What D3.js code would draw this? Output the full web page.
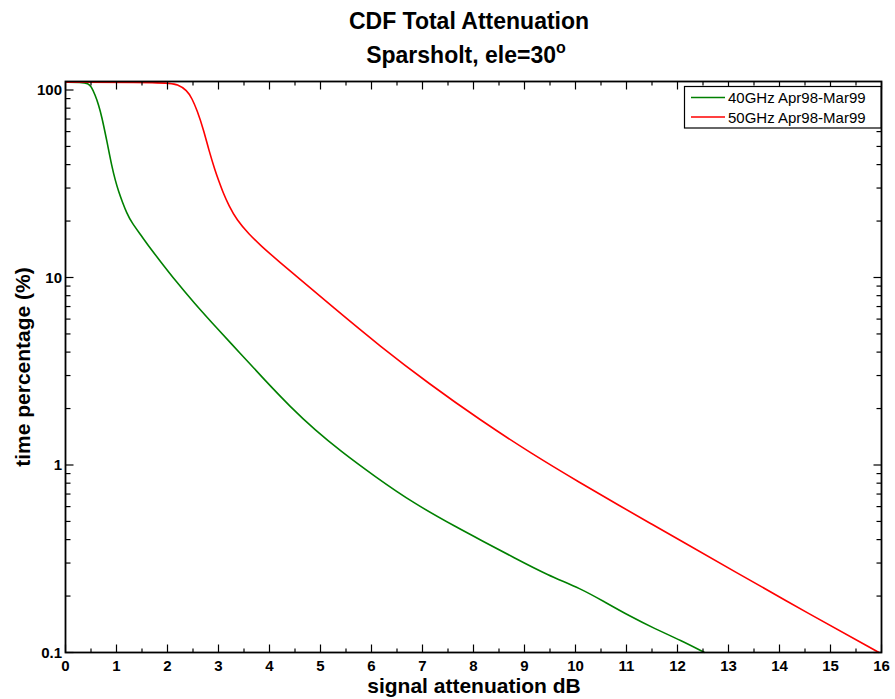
<!DOCTYPE html>
<html>
<head>
<meta charset="utf-8">
<script src="https://d3js.org/d3.v7.min.js"></script>
<style>
  html, body { margin: 0; padding: 0; background: #fff; }
  svg { display: block; font-family: "Liberation Sans", Arial, sans-serif; }
</style>
</head>
<body>
<svg id="chart" width="895" height="699"></svg>
<script>
// ---- data ----
const titleLine1 = "CDF Total Attenuation";
const titleLine2 = "Sparsholt, ele=30";
const xLabel = "signal attenuation dB";
const yLabel = "time percentage (%)";

const seriesNames = ["40GHz Apr98-Mar99", "50GHz Apr98-Mar99"];
const seriesColors = ["#008000", "#ff0000"];

const green_x = [0, 0.3, 0.45, 0.5, 0.58, 0.65, 0.71, 0.81, 0.91, 0.98, 1.04, 1.12, 1.2, 1.3, 1.46, 1.65, 1.86, 2.15, 2.51, 3.0, 3.43, 3.9, 4.41, 4.9, 5.39, 6.05, 6.83, 7.69, 8.14, 8.8, 9.45, 10.11, 10.57, 11.09, 11.55, 12.07, 12.53];
const green_y = [110, 110, 108.4, 104.7, 94.4, 83.2, 72.4, 53.7, 38.9, 32.7, 28.8, 25.1, 22.1, 19.6, 17.1, 14.45, 12.2, 9.66, 7.38, 5.25, 3.93, 2.85, 2.04, 1.53, 1.19, 0.875, 0.624, 0.462, 0.398, 0.32, 0.259, 0.219, 0.186, 0.155, 0.134, 0.116, 0.1];

const red_x = [0, 2.0, 2.2, 2.38, 2.48, 2.58, 2.71, 2.81, 2.94, 3.0, 3.1, 3.2, 3.36, 3.6, 3.82, 4.21, 4.61, 5.2, 6.18, 7.13, 8.14, 9.13, 10.11, 10.89, 11.48, 12.07, 13.05, 14.63, 15.95];
const red_y = [110, 110, 107, 99.8, 90.2, 78, 61, 47.8, 36.7, 33.1, 27.9, 24.3, 20.2, 17.0, 14.86, 12.0, 9.73, 7.11, 4.27, 2.71, 1.73, 1.153, 0.798, 0.601, 0.486, 0.394, 0.277, 0.158, 0.1];

const xTicks = [0,1,2,3,4,5,6,7,8,9,10,11,12,13,14,15,16];
const yTickLabels = ["0.1", "1", "10", "100"];
const yTickValues = [0.1, 1, 10, 100];

// ---- layout ----
const svg = d3.select("#chart");
const L = 65.5, R = 881.5, T = 81.5, B = 652.5;

const x = d3.scaleLinear().domain([0, 16]).range([L, R]);
const y = d3.scaleLog().domain([0.1, 111]).range([B, T]);

// titles
svg.append("text").attr("x", 469).attr("y", 29).attr("text-anchor", "middle")
  .attr("font-size", 23).attr("font-weight", "bold").attr("fill", "#000").text(titleLine1);
const t2 = svg.append("text").attr("x", 466).attr("y", 63).attr("text-anchor", "middle")
  .attr("font-size", 23).attr("font-weight", "bold").attr("fill", "#000");
t2.append("tspan").text(titleLine2);
t2.append("tspan").attr("dy", -10).attr("font-size", 16).text("o");

// curves
const line = d3.line().x(d => x(d[0])).y(d => y(d[1])).curve(d3.curveBasis);
const series = [
  d3.zip(green_x, green_y),
  d3.zip(red_x, red_y)
];
series.forEach((s, i) => {
  svg.append("path").datum(s).attr("d", line)
    .attr("fill", "none").attr("stroke", seriesColors[i]).attr("stroke-width", 1.6);
});

// minor ticks lists
const xMinor = d3.range(0.5, 16, 1);
const yMinor = [];
[0.1, 1, 10].forEach(dec => { for (let k = 2; k <= 9; k++) yMinor.push(dec * k); });

const axisG = svg.append("g").attr("stroke", "#000").attr("stroke-width", 1.2);
xTicks.forEach(v => {
  axisG.append("line").attr("x1", x(v)).attr("x2", x(v)).attr("y1", B).attr("y2", B - 8);
  axisG.append("line").attr("x1", x(v)).attr("x2", x(v)).attr("y1", T).attr("y2", T + 8);
});
xMinor.forEach(v => {
  axisG.append("line").attr("x1", x(v)).attr("x2", x(v)).attr("y1", B).attr("y2", B - 4);
  axisG.append("line").attr("x1", x(v)).attr("x2", x(v)).attr("y1", T).attr("y2", T + 4);
});
yTickValues.forEach(v => {
  axisG.append("line").attr("x1", L).attr("x2", L + 8).attr("y1", y(v)).attr("y2", y(v));
  axisG.append("line").attr("x1", R).attr("x2", R - 8).attr("y1", y(v)).attr("y2", y(v));
});
yMinor.forEach(v => {
  axisG.append("line").attr("x1", L).attr("x2", L + 5).attr("y1", y(v)).attr("y2", y(v));
  axisG.append("line").attr("x1", R).attr("x2", R - 5).attr("y1", y(v)).attr("y2", y(v));
});

// frame
svg.append("rect").attr("x", L).attr("y", T).attr("width", R - L).attr("height", B - T)
  .attr("fill", "none").attr("stroke", "#000").attr("stroke-width", 1.8);

// tick labels
xTicks.forEach(v => {
  svg.append("text").attr("x", x(v)).attr("y", 671).attr("text-anchor", "middle")
    .attr("font-size", 15).attr("font-weight", "bold").text(String(v));
});
yTickValues.forEach((v, i) => {
  svg.append("text").attr("x", 62).attr("y", y(v) + 5.5).attr("text-anchor", "end")
    .attr("font-size", 15).attr("font-weight", "bold").text(yTickLabels[i]);
});

// axis titles
svg.append("text").attr("x", 474).attr("y", 693).attr("text-anchor", "middle")
  .attr("font-size", 21).attr("font-weight", "bold").text(xLabel);
svg.append("text").attr("transform", "translate(30,367) rotate(-90)").attr("text-anchor", "middle")
  .attr("font-size", 21).attr("font-weight", "bold").text(yLabel);

// legend
const lg = svg.append("g");
lg.append("rect").attr("x", 684.5).attr("y", 86.5).attr("width", 196.5).attr("height", 41.5)
  .attr("fill", "#fff").attr("stroke", "#000").attr("stroke-width", 1.2);
seriesNames.forEach((n, i) => {
  const yy = 97.5 + i * 19.5;
  lg.append("line").attr("x1", 691).attr("x2", 725).attr("y1", yy).attr("y2", yy)
    .attr("stroke", seriesColors[i]).attr("stroke-width", 1.4);
  lg.append("text").attr("x", 728).attr("y", yy + 5.5).attr("font-size", 15).text(n);
});
</script>
</body>
</html>
